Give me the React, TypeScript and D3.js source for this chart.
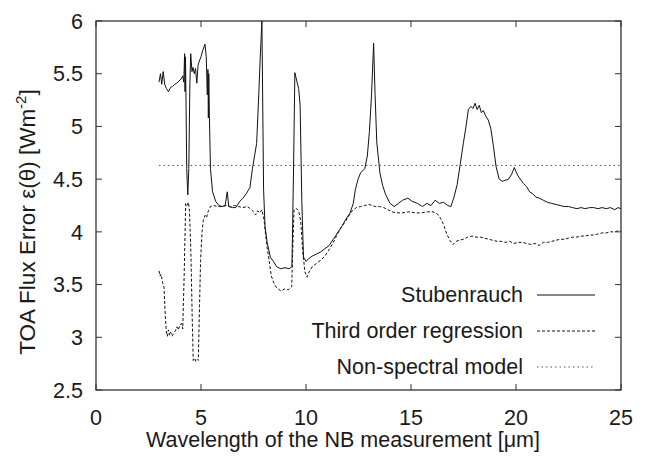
import React from "react";
import * as d3 from "d3";

// Stubenrauch (solid)
const stubenrauch: [number, number][] = [
  [3.0, 5.42], [3.07, 5.5], [3.13, 5.4], [3.2, 5.52], [3.27, 5.4], [3.35, 5.36], [3.45, 5.33],
  [3.55, 5.37], [3.65, 5.38], [3.75, 5.4], [3.85, 5.41], [3.95, 5.43], [4.05, 5.45], [4.13, 5.48],
  [4.18, 5.42], [4.22, 5.69], [4.24, 5.33], [4.26, 5.66], [4.28, 5.36], [4.32, 4.6], [4.37, 4.35],
  [4.42, 4.6], [4.47, 5.4], [4.51, 5.69], [4.57, 5.52], [4.62, 5.56], [4.68, 5.5], [4.74, 5.55],
  [4.8, 5.41], [4.86, 5.58], [4.92, 5.62], [5.0, 5.66], [5.08, 5.72], [5.19, 5.78], [5.25, 5.66],
  [5.3, 5.3], [5.33, 5.54], [5.35, 5.08], [5.37, 5.5], [5.4, 5.1], [5.45, 4.6], [5.55, 4.38],
  [5.7, 4.29], [5.85, 4.25], [6.0, 4.24], [6.15, 4.25], [6.25, 4.38], [6.32, 4.24], [6.5, 4.23],
  [6.65, 4.23], [6.85, 4.29], [7.0, 4.32], [7.15, 4.36], [7.33, 4.42], [7.45, 4.6], [7.55, 4.72],
  [7.65, 4.84], [7.75, 5.3], [7.82, 5.65], [7.9, 6.0], [7.98, 4.4], [8.05, 4.05], [8.15, 3.9],
  [8.3, 3.76], [8.45, 3.72], [8.6, 3.67], [8.8, 3.65], [9.0, 3.66], [9.2, 3.65], [9.33, 3.67],
  [9.4, 4.5], [9.47, 5.51], [9.55, 5.44], [9.65, 5.36], [9.72, 5.2], [9.8, 4.3], [9.88, 3.76],
  [10.0, 3.72], [10.15, 3.75], [10.3, 3.77], [10.5, 3.79], [10.7, 3.81], [10.9, 3.84], [11.1, 3.87],
  [11.3, 3.93], [11.5, 3.99], [11.7, 4.05], [11.9, 4.12], [12.1, 4.18], [12.25, 4.27], [12.35, 4.4],
  [12.48, 4.5], [12.6, 4.56], [12.8, 4.6], [12.92, 4.72], [13.02, 4.95], [13.12, 5.3], [13.22, 5.79],
  [13.29, 5.3], [13.37, 4.85], [13.52, 4.56], [13.65, 4.44], [13.78, 4.36], [14.0, 4.27], [14.2, 4.24],
  [14.4, 4.27], [14.6, 4.3], [14.85, 4.32], [15.05, 4.29], [15.3, 4.27], [15.55, 4.24], [15.75, 4.27],
  [15.95, 4.25], [16.15, 4.3], [16.35, 4.27], [16.55, 4.28], [16.75, 4.25], [16.9, 4.24], [17.05, 4.33],
  [17.2, 4.45], [17.35, 4.65], [17.5, 4.85], [17.62, 5.0], [17.73, 5.16], [17.85, 5.19], [17.95, 5.17],
  [18.05, 5.22], [18.15, 5.16], [18.25, 5.2], [18.35, 5.13], [18.45, 5.15], [18.55, 5.1], [18.68, 5.06],
  [18.8, 4.98], [18.92, 4.82], [19.05, 4.62], [19.2, 4.5], [19.35, 4.48], [19.5, 4.49], [19.65, 4.5],
  [19.8, 4.55], [19.92, 4.61], [20.0, 4.57], [20.1, 4.53], [20.2, 4.5], [20.35, 4.46], [20.5, 4.43],
  [20.65, 4.38], [20.8, 4.36], [20.95, 4.33], [21.1, 4.32], [21.3, 4.3], [21.5, 4.28], [21.7, 4.27],
  [21.9, 4.26], [22.1, 4.25], [22.3, 4.24], [22.5, 4.24], [22.7, 4.23], [22.9, 4.22], [23.1, 4.23],
  [23.3, 4.22], [23.5, 4.23], [23.7, 4.23], [23.9, 4.22], [24.1, 4.23], [24.3, 4.22], [24.5, 4.23],
  [24.7, 4.21], [24.85, 4.23], [25.0, 4.22],
];

// Third order regression (dashed)
const thirdOrder: [number, number][] = [
  [3.0, 3.63], [3.05, 3.58], [3.1, 3.6], [3.17, 3.52], [3.24, 3.47], [3.3, 3.2], [3.35, 3.05],
  [3.4, 3.01], [3.45, 3.07], [3.5, 3.02], [3.55, 3.05], [3.62, 3.01], [3.7, 3.04], [3.78, 3.06],
  [3.85, 3.1], [3.92, 3.07], [4.0, 3.12], [4.08, 3.13], [4.13, 3.08], [4.2, 3.6], [4.27, 4.27],
  [4.33, 4.25], [4.4, 4.28], [4.45, 4.2], [4.52, 3.8], [4.58, 3.2], [4.63, 2.78], [4.7, 2.8],
  [4.75, 2.77], [4.82, 2.79], [4.87, 2.78], [4.93, 3.3], [4.98, 3.73], [5.05, 4.0], [5.11, 4.11],
  [5.2, 4.16], [5.27, 4.14], [5.35, 4.2], [5.45, 4.24], [5.6, 4.25], [5.8, 4.24], [6.0, 4.24],
  [6.2, 4.25], [6.4, 4.24], [6.6, 4.25], [6.8, 4.24], [7.0, 4.23], [7.2, 4.24], [7.35, 4.22],
  [7.5, 4.19], [7.6, 4.16], [7.7, 4.2], [7.8, 4.18], [7.9, 4.21], [8.0, 4.12], [8.05, 4.02],
  [8.15, 3.85], [8.25, 3.72], [8.35, 3.58], [8.5, 3.5], [8.6, 3.47], [8.8, 3.44], [9.0, 3.46],
  [9.15, 3.45], [9.32, 3.48], [9.38, 3.9], [9.43, 4.21], [9.55, 4.22], [9.65, 4.2], [9.75, 4.1],
  [9.85, 3.8], [9.95, 3.62], [10.05, 3.57], [10.15, 3.62], [10.3, 3.67], [10.5, 3.7], [10.7, 3.73],
  [10.9, 3.77], [11.1, 3.83], [11.3, 3.9], [11.5, 3.98], [11.7, 4.05], [11.85, 4.09], [12.0, 4.14],
  [12.2, 4.2], [12.4, 4.23], [12.6, 4.24], [12.8, 4.25], [13.0, 4.26], [13.15, 4.25], [13.3, 4.24],
  [13.5, 4.24], [13.7, 4.23], [13.9, 4.21], [14.1, 4.19], [14.3, 4.18], [14.6, 4.18], [14.9, 4.19],
  [15.2, 4.18], [15.5, 4.18], [15.8, 4.19], [16.05, 4.19], [16.25, 4.17], [16.4, 4.13], [16.55, 4.07],
  [16.7, 3.98], [16.85, 3.92], [17.0, 3.88], [17.15, 3.91], [17.3, 3.92], [17.5, 3.93], [17.7, 3.95],
  [17.9, 3.96], [18.1, 3.95], [18.3, 3.95], [18.5, 3.94], [18.7, 3.93], [18.9, 3.92], [19.1, 3.91],
  [19.3, 3.91], [19.5, 3.9], [19.7, 3.91], [19.9, 3.89], [20.1, 3.9], [20.3, 3.9], [20.5, 3.89],
  [20.7, 3.88], [20.9, 3.89], [21.1, 3.87], [21.3, 3.9], [21.5, 3.9], [21.7, 3.91], [21.9, 3.92],
  [22.1, 3.93], [22.3, 3.93], [22.5, 3.94], [22.7, 3.95], [22.9, 3.95], [23.1, 3.96], [23.3, 3.96],
  [23.5, 3.97], [23.7, 3.97], [23.9, 3.98], [24.1, 3.99], [24.3, 3.99], [24.5, 4.0], [24.7, 4.0],
  [24.85, 4.01], [25.0, 4.01],
];

// Non-spectral model (dotted)
const nonSpectral: [number, number][] = [
  [3.0, 4.63],
  [25.0, 4.63],
];

const xTicks = [0, 5, 10, 15, 20, 25];
const yTicks = [2.5, 3, 3.5, 4, 4.5, 5, 5.5, 6];

const series = [
  { name: "Stubenrauch", data: stubenrauch, dash: "none", color: "#111" },
  { name: "Third order regression", data: thirdOrder, dash: "3,2", color: "#111" },
  { name: "Non-spectral model", data: nonSpectral, dash: "1.5,3", color: "#555" },
];

const W = 647;
const H = 457;
const margin = { left: 96, right: 26, top: 21, bottom: 67 };
const font = "'Liberation Sans', Arial, Helvetica, sans-serif";

const App = () => {
  const ref = React.useRef<SVGSVGElement>(null);

  React.useEffect(() => {
    const svg = d3.select(ref.current);
    svg.selectAll("*").remove();

    const x = d3.scaleLinear().domain([0, 25]).range([margin.left, W - margin.right]);
    const y = d3.scaleLinear().domain([2.5, 6]).range([H - margin.bottom, margin.top]);
    const tick = 6;

    const g = svg.append("g");

    const line = d3
      .line<[number, number]>()
      .x(d => x(d[0]))
      .y(d => y(d[1]));

    series.forEach(s => {
      g.append("path")
        .datum(s.data)
        .attr("fill", "none")
        .attr("stroke", s.color)
        .attr("stroke-width", 1)
        .attr("stroke-dasharray", s.dash)
        .attr("d", line);
    });

    // frame
    g.append("rect")
      .attr("x", x(0))
      .attr("y", y(6))
      .attr("width", x(25) - x(0))
      .attr("height", y(2.5) - y(6))
      .attr("fill", "none")
      .attr("stroke", "#333")
      .attr("stroke-width", 1.3);

    // ticks (inward, mirrored)
    xTicks.forEach(t => {
      g.append("line").attr("x1", x(t)).attr("x2", x(t)).attr("y1", y(2.5)).attr("y2", y(2.5) - tick).attr("stroke", "#333");
      g.append("line").attr("x1", x(t)).attr("x2", x(t)).attr("y1", y(6)).attr("y2", y(6) + tick).attr("stroke", "#333");
      g.append("text")
        .attr("x", x(t))
        .attr("y", y(2.5) + 35)
        .attr("text-anchor", "middle")
        .style("font-family", font)
        .style("font-size", "21.5px")
        .attr("fill", "#1a1a1a")
        .text(t);
    });

    yTicks.forEach(t => {
      g.append("line").attr("x1", x(0)).attr("x2", x(0) + tick).attr("y1", y(t)).attr("y2", y(t)).attr("stroke", "#333");
      g.append("line").attr("x1", x(25)).attr("x2", x(25) - tick).attr("y1", y(t)).attr("y2", y(t)).attr("stroke", "#333");
      g.append("text")
        .attr("x", x(0) - 13)
        .attr("y", y(t))
        .attr("dy", "0.36em")
        .attr("text-anchor", "end")
        .style("font-family", font)
        .style("font-size", "21.5px")
        .attr("fill", "#1a1a1a")
        .text(d3.format("~g")(t));
    });

    // axis labels
    g.append("text")
      .attr("x", 343)
      .attr("y", 447)
      .attr("text-anchor", "middle")
      .style("font-family", font)
      .style("font-size", "21.5px")
      .attr("fill", "#1a1a1a")
      .text("Wavelength of the NB measurement [\u03bcm]");

    const yl = g
      .append("text")
      .attr("transform", `translate(35, 222) rotate(-90)`)
      .attr("text-anchor", "middle")
      .style("font-family", font)
      .style("font-size", "22.5px")
      .attr("fill", "#1a1a1a");
    yl.append("tspan").text("TOA Flux Error \u03b5(\u03b8) [Wm");
    yl.append("tspan").attr("dy", -9).style("font-size", "15px").text("-2");
    yl.append("tspan").attr("dy", 9).text("]");

    // legend
    series.forEach((s, i) => {
      const ly = 295 + i * 36;
      g.append("text")
        .attr("x", 523)
        .attr("y", ly)
        .attr("dy", "0.33em")
        .attr("text-anchor", "end")
        .style("font-family", font)
        .style("font-size", "21.5px")
        .attr("fill", "#1a1a1a")
        .text(s.name);
      g.append("line")
        .attr("x1", 537)
        .attr("x2", 595)
        .attr("y1", ly)
        .attr("y2", ly)
        .attr("stroke", s.color)
        .attr("stroke-width", 1)
        .attr("stroke-dasharray", s.dash);
    });
  }, []);

  return (
    <svg
      ref={ref}
      width={W}
      height={H}
      style={{ position: "absolute", left: 0, top: 0, background: "#fff" }}
    />
  );
};

export default App;
